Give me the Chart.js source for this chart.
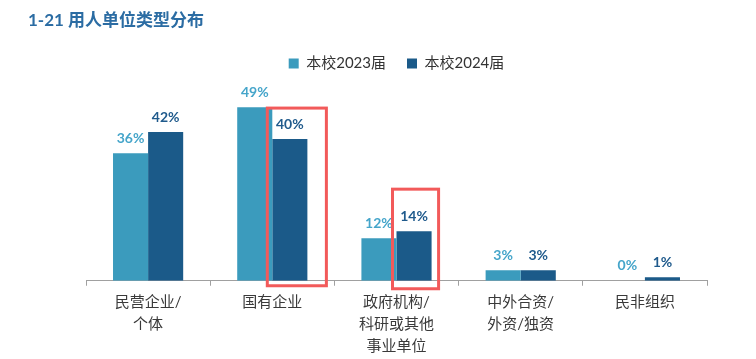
<!DOCTYPE html>
<html>
<head>
<meta charset="utf-8">
<script src="https://cdn.jsdelivr.net/npm/chart.js@4"></script>
<style>
  body { margin: 0; background: #fff; }
  #wrap { position: relative; width: 756px; height: 359px; }
  #title {
    position: absolute; left: 28px; top: 6px;
    font: bold 17px Lato, "Noto Sans CJK SC", sans-serif;
    color: #2b6ca3;
  }
</style>
</head>
<body>
<div id="wrap">
  <div id="title">1-21 用人单位类型分布</div>
  <canvas id="typeChart" width="756" height="359"></canvas>
</div>
<script>
const categories = [
    ['民营企业/', '个体'],
    ['国有企业'],
    ['政府机构/', '科研或其他', '事业单位'],
    ['中外合资/', '外资/独资'],
    ['民非组织']
];
const seriesNames = ['本校2023届', '本校2024届'];
const values2023 = [36, 49, 12, 3, 0];
const values2024 = [42, 40, 14, 3, 1];
// which 2024 bars get the red highlight box
const highlighted = [1, 2];

const lightBlue = '#3b9bbd';
const darkBlue = '#1b5a89';
const fontFamily = 'Lato, "Noto Sans CJK SC", sans-serif';

// value labels above bars
const valueLabels = {
    id: 'valueLabels',
    afterDatasetsDraw(chart) {
        const ctx = chart.ctx;
        const colors = ['#45a5ca', '#1f5a8c'];
        ctx.save();
        ctx.font = 'bold 14px ' + fontFamily;
        ctx.textAlign = 'center';
        ctx.textBaseline = 'middle';
        chart.data.datasets.forEach((ds, i) => {
            chart.getDatasetMeta(i).data.forEach((bar, j) => {
                ctx.fillStyle = colors[i];
                ctx.fillText(ds.data[j] + '%', bar.x, bar.y - 15);
            });
        });
        ctx.restore();
    }
};

// red boxes drawn around highlighted bars
const highlightBoxes = {
    id: 'highlightBoxes',
    afterDraw(chart) {
        const ctx = chart.ctx;
        const bars = chart.getDatasetMeta(1).data;
        const base = chart.scales.y.getPixelForValue(0);
        const pads = [
            { l: 5, r: 19, t: 31, b: 5 },
            { l: 4, r: 7, t: 42, b: 8 }
        ];
        ctx.save();
        ctx.strokeStyle = '#f25a5a';
        ctx.lineWidth = 3;
        highlighted.forEach((idx, k) => {
            const bar = bars[idx];
            const p = pads[k];
            const left = bar.x - bar.width / 2 - p.l;
            const right = bar.x + bar.width / 2 + p.r;
            const top = bar.y - p.t;
            const bottom = base + p.b;
            ctx.strokeRect(left, top, right - left, bottom - top);
        });
        ctx.restore();
    }
};

const ctx = document.getElementById('typeChart').getContext('2d');
new Chart(ctx, {
    type: 'bar',
    data: {
        labels: categories,
        datasets: [
            { label: seriesNames[0], data: values2023, backgroundColor: lightBlue },
            { label: seriesNames[1], data: values2024, backgroundColor: darkBlue }
        ]
    },
    options: {
        responsive: false,
        animation: false,
        layout: { padding: { top: 35, left: 86, right: 49, bottom: 0 } },
        datasets: {
            bar: { categoryPercentage: 0.565, barPercentage: 1 }
        },
        plugins: {
            legend: {
                position: 'top',
                labels: {
                    boxWidth: 10,
                    boxHeight: 10,
                    color: '#333',
                    font: { family: fontFamily, size: 15 },
                    padding: 21
                }
            },
            tooltip: { enabled: false }
        },
        scales: {
            x: {
                grid: {
                    offset: true,
                    drawOnChartArea: false,
                    tickLength: 5,
                    color: '#a0a0a0'
                },
                border: { color: '#a0a0a0' },
                ticks: {
                    color: '#3a3a3a',
                    font: { family: fontFamily, size: 15, lineHeight: 1.45 },
                    padding: 6,
                    maxRotation: 0
                },
                afterFit(scale) {
                    scale.height -= 4;
                }
            },
            y: {
                display: false,
                min: 0,
                max: 56.4
            }
        }
    },
    plugins: [valueLabels, highlightBoxes]
});
</script>
</body>
</html>
